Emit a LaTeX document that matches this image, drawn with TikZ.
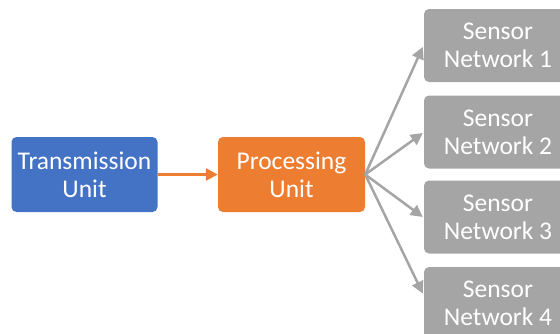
\documentclass[tikz,border=0pt]{standalone}
\usepackage{fontspec}
\setmainfont{Carlito}
\usetikzlibrary{arrows.meta,calc}
\definecolor{unitblue}{HTML}{4472C4}
\definecolor{unitorange}{HTML}{ED7D31}
\definecolor{unitgray}{HTML}{A5A5A5}
\tikzset{
  box/.style={rounded corners=5pt, inner sep=0pt, text=white, align=center,
    font=\fontsize{25.5}{28}\selectfont},
  unitbox/.style={box, minimum width=146pt, minimum height=75pt},
  sensorbox/.style={box, fill=unitgray, minimum width=148pt, minimum height=73pt},
  link/.style={line width=2.5pt, draw=unitgray, -{Triangle[length=12pt,width=12pt]}},
  feed/.style={line width=3pt, draw=unitorange, -{Triangle[length=12pt,width=12pt]}}
}
\begin{document}
\begin{tikzpicture}[x=1pt,y=-1pt]
  \useasboundingbox (0,0) rectangle (560,333);
  \node[unitbox, fill=unitblue] (tx) at (84.5,174.5) {Transmission\\Unit};
  \node[unitbox, fill=unitorange, minimum width=147pt] (proc) at (291.5,174.5) {Processing\\Unit};
  \node[sensorbox] (s1) at (498,45.5) {Sensor\\Network 1};
  \node[sensorbox] (s2) at (498,132) {Sensor\\Network 2};
  \node[sensorbox] (s3) at (498,217) {Sensor\\Network 3};
  \node[sensorbox] (s4) at (498,303.5) {Sensor\\Network 4};
  \draw[feed] (tx.east) -- (proc.west);
  \coordinate (hub) at (proc.east);
  \draw[link] (hub) -- ($(s1.west)+(-1,1.5)$);
  \draw[link] (hub) -- ($(s2.west)+(-1,1)$);
  \draw[link] (hub) -- ($(s3.west)+(-1,0)$);
  \draw[link] (hub) -- ($(s4.west)+(-1,-10)$);
\end{tikzpicture}
\end{document}
